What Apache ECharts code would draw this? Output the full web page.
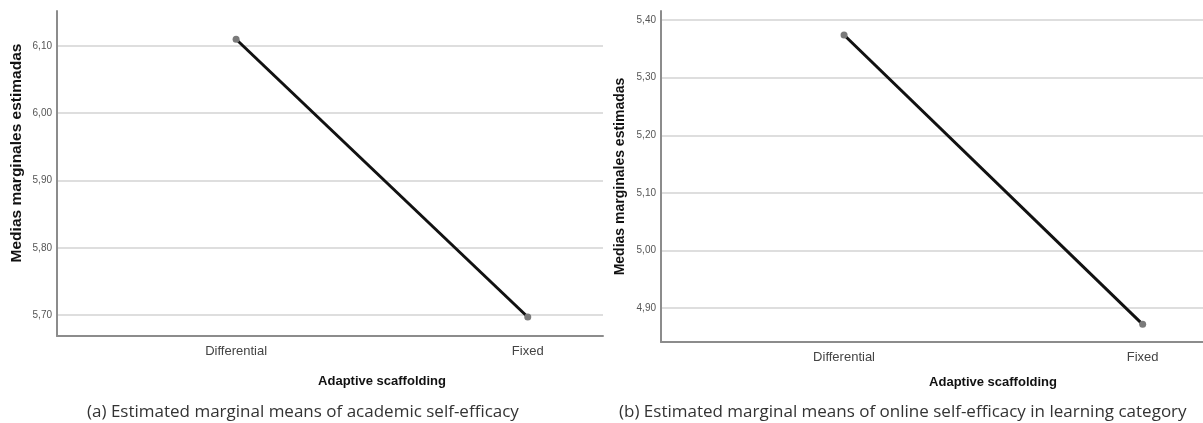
<!DOCTYPE html>
<html>
<head>
<meta charset="utf-8">
<script src="https://cdn.jsdelivr.net/npm/echarts@6/dist/echarts.min.js"></script>
<style>
    html, body { margin: 0; padding: 0; background: #fff; }
    #chart { width: 1203px; height: 423px; }
</style>
</head>
<body>
<div id="chart"></div>
<script>
    // data
    const categories = ['Differential', 'Fixed'];
    const academicMeans = [6.11, 5.697];
    const onlineMeans = [5.374, 4.872];
    const yAxisTitle = 'Medias marginales estimadas';
    const xAxisTitle = 'Adaptive scaffolding';
    const captions = [
        '(a) Estimated marginal means of academic self-efficacy',
        '(b) Estimated marginal means of online self-efficacy in learning category'
    ];

    const chart = echarts.init(document.getElementById('chart'));
    const spssFont = 'Liberation Sans';

    // points at x = 0, 1 for the two categories
    function toPoints(values) {
        return values.map(function (v, i) { return [i, v]; });
    }

    function xAxisFor(gridIndex, min, max, nameGap, shift) {
        return {
            type: 'value',
            gridIndex: gridIndex,
            min: min,
            max: max,
            name: xAxisTitle,
            nameLocation: 'middle',
            nameGap: nameGap,
            nameTextStyle: {
                fontFamily: spssFont,
                fontWeight: 'bold',
                fontSize: 13,
                color: '#111',
                // SPSS centres the title between the categories, not on the axis
                padding: [0, 0, 0, shift]
            },
            axisLine: { show: true, onZero: false, lineStyle: { color: '#8c8c8c', width: 2 } },
            axisTick: { show: false },
            splitLine: { show: false },
            axisLabel: {
                customValues: [0, 1],
                formatter: function (v) { return categories[Math.round(v)] || ''; },
                fontFamily: spssFont,
                fontSize: 13,
                color: '#444',
                margin: 9
            }
        };
    }

    function yAxisFor(gridIndex, min, max, nameGap, shift, nameSize) {
        return {
            type: 'value',
            gridIndex: gridIndex,
            min: min,
            max: max,
            splitNumber: 5,
            name: yAxisTitle,
            nameLocation: 'middle',
            nameRotate: 90,
            nameGap: nameGap,
            nameTextStyle: {
                fontFamily: spssFont,
                fontWeight: 'bold',
                fontSize: nameSize,
                color: '#111',
                padding: [0, 0, 0, shift]
            },
            axisLine: { show: true, onZero: false, lineStyle: { color: '#8c8c8c', width: 2 } },
            axisTick: { show: false },
            splitLine: {
                show: true,
                showMinLine: false,
                showMaxLine: false,
                lineStyle: { color: '#d3d3d3', width: 1.5 }
            },
            axisLabel: {
                showMinLabel: false,
                showMaxLabel: false,
                formatter: function (v) { return v.toFixed(2).replace('.', ','); },
                fontFamily: spssFont,
                fontSize: 10,
                color: '#555',
                margin: 5
            }
        };
    }

    function lineSeries(index, values) {
        return {
            type: 'line',
            xAxisIndex: index,
            yAxisIndex: index,
            data: toPoints(values),
            symbol: 'circle',
            symbolSize: 7,
            itemStyle: { color: '#7a7a7a' },
            lineStyle: { color: '#111', width: 3 },
            animation: false
        };
    }

    const captionStyle = { fontFamily: 'Open Sans', fontWeight: 'normal', fontSize: 17, color: '#333' };

    const option = {
        backgroundColor: '#fff',
        title: [
            { text: captions[0], left: 82, top: 399, textStyle: captionStyle },
            { text: captions[1], left: 614, top: 399, textStyle: captionStyle }
        ],
        grid: [
            { left: 57, right: 600, top: 11, bottom: 87 },
            { left: 661, right: 0, top: 11, bottom: 81 }
        ],
        xAxis: [
            xAxisFor(0, -0.614, 1.258, 39, 104),
            xAxisFor(1, -0.613, 1.202, 34, 122)
        ],
        yAxis: [
            yAxisFor(0, 5.6688, 6.152, 32, 41, 15.5),
            yAxisFor(1, 4.8414, 5.4157, 34, 0, 14)
        ],
        series: [
            lineSeries(0, academicMeans),
            lineSeries(1, onlineMeans)
        ]
    };

    chart.setOption(option);
</script>
</body>
</html>
